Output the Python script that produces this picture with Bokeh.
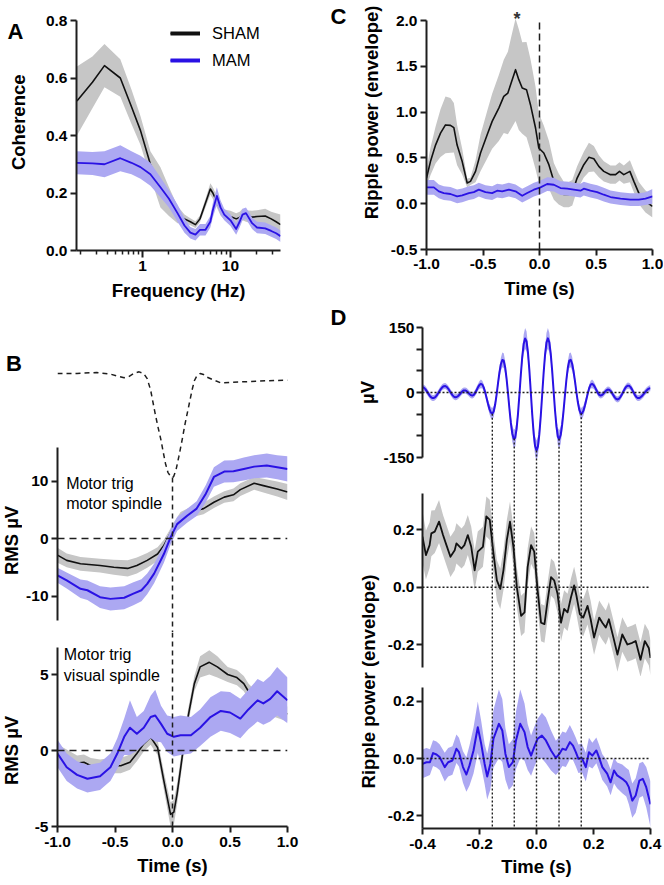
import numpy as np
from bokeh.plotting import figure
from bokeh.models import (Range1d, LinearAxis, FixedTicker, NumeralTickFormatter,
                          BasicTickFormatter, Span, Label, Legend, LegendItem)
from bokeh.layouts import row, column
from bokeh.embed import file_html
from bokeh.resources import INLINE

# ======================= DATA =======================
# ---- Panel A: coherence vs frequency (Hz)
a_freq = [0.18, 0.27, 0.37, 0.56, 0.75, 0.95, 1.23, 1.6, 2.0, 2.5,
          3.0, 3.5, 4.0, 4.5, 5.2, 5.9, 6.3, 7.0, 7.7, 8.5,
          10.0, 11.6, 12.7, 13.7, 15.0, 17.6, 20.0, 24.8, 29.0, 33.0, 37.0]
a_sham = [0.52, 0.585, 0.643, 0.60, 0.50, 0.417, 0.30, 0.22, 0.17, 0.125,
          0.11, 0.10, 0.09, 0.11, 0.165, 0.214, 0.20, 0.17, 0.14, 0.125,
          0.118, 0.11, 0.115, 0.125, 0.12, 0.116, 0.118, 0.12, 0.11, 0.10, 0.09]
a_sham_sem = [0.12, 0.09, 0.075, 0.065, 0.06, 0.05, 0.045, 0.07, 0.05, 0.03,
              0.015, 0.012, 0.012, 0.012, 0.015, 0.02, 0.02, 0.02, 0.018, 0.018,
              0.02, 0.02, 0.02, 0.02, 0.02, 0.022, 0.022, 0.025, 0.025, 0.03, 0.035]
a_mam = [0.305, 0.303, 0.30, 0.321, 0.305, 0.29, 0.265, 0.22, 0.18, 0.13,
         0.087, 0.062, 0.055, 0.072, 0.072, 0.10, 0.14, 0.19, 0.15, 0.125,
         0.105, 0.075, 0.10, 0.125, 0.13, 0.095, 0.08, 0.077, 0.068, 0.06, 0.05]
a_mam_sem = [0.04, 0.04, 0.045, 0.045, 0.04, 0.04, 0.04, 0.035, 0.03, 0.03,
             0.025, 0.02, 0.02, 0.02, 0.02, 0.02, 0.025, 0.03, 0.025, 0.02,
             0.02, 0.02, 0.02, 0.02, 0.02, 0.02, 0.02, 0.02, 0.02, 0.02, 0.02]
a_yticks = [0, 0.2, 0.4, 0.6, 0.8]
a_xticks = [1, 10]
a_xminor = [0.2, 0.3, 0.4, 0.5, 0.6, 0.7, 0.8, 0.9, 2, 3, 4, 5, 6, 7, 8, 9, 20, 30]

# ---- Panel C: ripple power (envelope) vs time (s)
c_t_sham = [-1.0, -0.965, -0.92, -0.876, -0.832, -0.788, -0.758, -0.729, -0.684, -0.64,
            -0.611, -0.566, -0.522, -0.463, -0.419, -0.36, -0.316, -0.28, -0.251, -0.212,
            -0.183, -0.153, -0.115, -0.08, -0.035, -0.006, 0.038, 0.083, 0.127, 0.17,
            0.215, 0.26, 0.29, 0.333, 0.392, 0.437, 0.481, 0.525, 0.569, 0.628,
            0.673, 0.708, 0.746, 0.80, 0.835, 0.879, 0.938, 1.0]
c_sham = [0.28, 0.46, 0.64, 0.77, 0.86, 0.855, 0.83, 0.64, 0.46, 0.226,
          0.244, 0.353, 0.553, 0.753, 0.899, 1.044, 1.172, 1.208, 1.317, 1.463,
          1.354, 1.263, 1.245, 1.081, 0.826, 0.608, 0.553, 0.426, 0.244, 0.16,
          0.10, 0.10, 0.12, 0.28, 0.426, 0.506, 0.491, 0.408, 0.353, 0.317,
          0.317, 0.353, 0.317, 0.353, 0.244, 0.116, 0.025, -0.03]
c_sham_sem = [0.10, 0.15, 0.20, 0.26, 0.31, 0.30, 0.27, 0.22, 0.14, 0.05,
              0.04, 0.12, 0.20, 0.26, 0.30, 0.36, 0.40, 0.45, 0.50, 0.56,
              0.55, 0.50, 0.52, 0.50, 0.45, 0.38, 0.30, 0.26, 0.20, 0.17,
              0.14, 0.14, 0.14, 0.13, 0.14, 0.16, 0.14, 0.12, 0.11, 0.10,
              0.10, 0.10, 0.10, 0.12, 0.12, 0.12, 0.12, 0.12]
c_t_mam = [-1.0, -0.935, -0.891, -0.847, -0.788, -0.729, -0.684, -0.625, -0.581, -0.537,
           -0.478, -0.419, -0.375, -0.33, -0.271, -0.212, -0.153, -0.109, -0.05, 0.009,
           0.068, 0.127, 0.186, 0.245, 0.304, 0.363, 0.392, 0.451, 0.51, 0.569,
           0.628, 0.717, 0.805, 0.879, 0.938, 1.0]
c_mam = [0.178, 0.178, 0.135, 0.116, 0.106, 0.08, 0.091, 0.116, 0.127, 0.153,
         0.127, 0.116, 0.142, 0.135, 0.153, 0.135, 0.087, 0.116, 0.153, 0.178,
         0.215, 0.207, 0.171, 0.164, 0.153, 0.142, 0.164, 0.142, 0.127, 0.098,
         0.073, 0.055, 0.044, 0.044, 0.055, 0.08]
c_mam_sem = [0.08, 0.08, 0.075, 0.075, 0.075, 0.075, 0.075, 0.075, 0.075, 0.075,
             0.075, 0.075, 0.075, 0.075, 0.075, 0.075, 0.075, 0.075, 0.075, 0.075,
             0.075, 0.075, 0.075, 0.075, 0.075, 0.075, 0.075, 0.075, 0.075, 0.075,
             0.07, 0.07, 0.07, 0.07, 0.07, 0.08]
c_xticks = [-1.0, -0.5, 0.0, 0.5, 1.0]
c_yticks = [-0.5, 0.0, 0.5, 1.0, 1.5, 2.0]
c_star_t = -0.2

# ---- Panel B: spindle template (arbitrary units) and RMS (uV)
b_tpl_t = [-1.0, -0.83, -0.66, -0.54, -0.46, -0.42, -0.38, -0.33, -0.29, -0.25,
           -0.22, -0.19, -0.15, -0.125, -0.10, -0.08, -0.06, -0.04, -0.017, 0.0,
           0.01, 0.03, 0.055, 0.08, 0.11, 0.14, 0.17, 0.19, 0.21, 0.24,
           0.27, 0.30, 0.36, 0.42, 0.50, 0.68, 0.82, 1.0]
b_tpl_v = [0.0, 0.0, 0.01, -0.006, -0.03, -0.04, -0.03, 0.005, 0.016, 0.0,
           -0.05, -0.16, -0.39, -0.52, -0.64, -0.76, -0.87, -0.95, -0.99, -1.0,
           -0.99, -0.93, -0.80, -0.66, -0.48, -0.32, -0.16, -0.07, -0.026, 0.0,
           -0.01, -0.035, -0.064, -0.09, -0.085, -0.077, -0.07, -0.064]

b1_t_sham = [-1.0, -0.92, -0.80, -0.63, -0.51, -0.39, -0.31, -0.22, -0.13, -0.075,
             -0.03, 0.01, 0.07, 0.13, 0.21, 0.27, 0.36, 0.45, 0.53, 0.59,
             0.71, 0.79, 0.91, 1.0]
b1_sham = [-2.9, -3.8, -4.4, -4.7, -5.0, -5.2, -4.7, -3.8, -2.7, -1.2,
           0.5, 2.0, 3.7, 4.3, 4.9, 5.2, 6.3, 7.2, 7.6, 8.5,
           9.6, 9.2, 8.6, 8.1]
b1_sham_sem = [1.3, 1.2, 1.2, 1.2, 1.3, 1.4, 1.4, 1.3, 1.2, 1.0,
               0.8, 0.8, 0.9, 0.9, 1.0, 1.0, 1.0, 1.0, 1.1, 1.1,
               1.1, 1.2, 1.3, 1.4]
b1_t_mam = [-1.0, -0.92, -0.80, -0.74, -0.63, -0.54, -0.42, -0.34, -0.27, -0.22,
            -0.16, -0.075, -0.017, 0.04, 0.13, 0.21, 0.29, 0.36, 0.45, 0.53,
            0.62, 0.71, 0.82, 0.91, 1.0]
b1_mam = [-6.4, -7.3, -8.75, -9.0, -10.2, -10.5, -10.3, -9.6, -9.0, -7.9,
          -6.1, -2.7, 0.2, 2.5, 4.0, 5.2, 7.8, 10.7, 11.65, 11.7,
          12.1, 12.5, 12.7, 12.4, 12.1]
b1_mam_sem = [1.3, 1.4, 1.6, 1.7, 1.9, 2.0, 2.0, 2.0, 1.9, 1.8,
              1.7, 1.5, 1.3, 1.2, 1.2, 1.3, 1.5, 1.7, 1.9, 1.9,
              2.0, 2.0, 2.1, 2.1, 2.2]

b2_t_sham = [-1.0, -0.92, -0.83, -0.77, -0.71, -0.63, -0.54, -0.45, -0.37, -0.31,
             -0.25, -0.19, -0.13, -0.075, -0.046, -0.017, 0.012, 0.04, 0.084, 0.13,
             0.19, 0.24, 0.32, 0.39, 0.48, 0.56, 0.62, 0.66, 0.75, 0.85, 1.0]
b2_sham = [-0.1, -0.44, -0.83, -0.77, -1.0, -1.1, -1.0, -1.0, -0.77, -0.2,
           0.44, 0.88, 0.2, -2.0, -3.1, -4.2, -4.05, -2.85, -0.44, 2.0,
           4.4, 5.5, 5.8, 5.5, 5.0, 4.8, 4.4, 3.9, 3.2, 2.8, 2.4]
b2_sham_sem = [0.5, 0.5, 0.5, 0.5, 0.5, 0.5, 0.5, 0.5, 0.5, 0.5,
               0.5, 0.5, 0.5, 0.6, 0.7, 0.8, 0.8, 0.7, 0.6, 0.5,
               0.5, 0.7, 0.8, 0.7, 0.5, 0.5, 0.5, 0.5, 0.5, 0.5, 0.5]
b2_t_mam = [-1.0, -0.92, -0.83, -0.74, -0.63, -0.54, -0.48, -0.42, -0.37, -0.31,
            -0.25, -0.19, -0.15, -0.10, -0.046, 0.012, 0.07, 0.16, 0.24, 0.33,
            0.42, 0.50, 0.59, 0.66, 0.74, 0.79, 0.85, 0.91, 1.0]
b2_mam = [-0.2, -1.1, -1.6, -1.86, -1.7, -1.1, -0.2, 0.9, 1.5, 1.1,
          1.5, 2.2, 2.3, 1.75, 1.1, 0.9, 1.0, 1.0, 1.5, 2.2,
          2.6, 2.5, 2.1, 2.7, 3.3, 3.1, 3.4, 3.9, 3.3]
b2_mam_sem = [0.9, 0.9, 0.9, 0.9, 0.9, 0.9, 1.0, 1.2, 1.8, 1.1,
              1.1, 1.4, 1.7, 1.2, 1.2, 1.3, 1.3, 1.2, 1.2, 1.3,
              1.3, 1.35, 1.3, 1.3, 1.4, 1.4, 1.5, 1.6, 1.5]
b_xticks = [-1.0, -0.5, 0.0, 0.5, 1.0]
b1_yticks = [-10, 0, 10]
b2_yticks = [-5, 0, 5]

# ---- Panel D: spindle-triggered averages (time in s)
d_top_t = np.round(np.linspace(-0.4, 0.4, 161), 3)   # 5 ms sample grid
d_top_mam = [12, 10.9, 7.8, 3.2, -2.1, -7.1, -10.9, -12.8, -12.6, -10.5,
             -6.6, -1.7, 3.7, 8.6, 12.5, 14.6, 14.8, 12.9, 9.1, 4.1,
             -1.2, -6.0, -9.4, -11.0, -10.4, -8.1, -4.6, -0.7, 2.7, 4.7,
             4.8, 3.1, 0.0, -3.4, -6.0, -7.0, -5.3, -0.7, 5.8, 12.4,
             17.6, 19.9, 18.2, 11.3, 0.3, -13.1, -26.7, -38.4, -46.2, -49.0,
             -43.4, -27.8, -4.8, 21.4, 46.3, 65.3, 75.1, 73.4, 58.4, 32.0,
             -1.6, -37.5, -70.1, -94.5, -106.9, -104.6, -84.7, -49.8, -5.6, 41.0,
             82.4, 111.7, 124.6, 118.4, 92.5, 51.1, 0.7, -50.5, -94.2, -123.6,
             -134.0, -124.2, -96.1, -54.1, -4.5, 45.1, 87.1, 115.2, 125.0, 115.7,
             89.1, 49.9, 3.8, -41.6, -78.8, -102.1, -107.9, -97.5, -74.2, -41.6,
             -4.9, 30.0, 57.6, 73.3, 75.2, 66.3, 49.0, 26.0, 1.0, -22.0,
             -39.4, -48.2, -47.9, -41.3, -30.0, -16.0, -1.6, 10.4, 18.0, 19.9,
             17.6, 12.4, 5.8, -0.7, -5.3, -7.0, -5.8, -2.8, 1.2, 4.8,
             6.8, 6.5, 3.6, -1.2, -6.7, -11.8, -15.1, -16.0, -14.1, -9.8,
             -3.9, 2.6, 8.8, 13.4, 15.8, 15.5, 12.4, 7.2, 0.8, -5.4,
             -10.2, -12.8, -12.7, -11.1, -8.2, -4.4, -0.2, 3.8, 7.1, 9.3,
             10.0]
d_top_sem = [7, 7, 7, 7, 7, 7, 7, 7, 7, 7,
             7, 7, 7, 7, 7, 7, 7, 7, 7, 7,
             7, 7, 7, 7, 7, 7, 7, 7, 7, 7,
             7, 7, 7, 7, 7, 7, 7, 7, 8, 8,
             9, 10, 9, 8, 7, 9, 10, 12, 13, 13,
             13, 11, 8, 10, 13, 15, 17, 17, 15, 11,
             7, 12, 16, 19, 21, 21, 18, 13, 8, 12,
             18, 22, 24, 23, 19, 14, 7, 14, 19, 22,
             23, 22, 19, 14, 8, 13, 18, 22, 24, 22,
             18, 13, 7, 12, 17, 20, 21, 20, 17, 12,
             8, 11, 15, 17, 17, 16, 13, 10, 7, 10,
             12, 13, 13, 12, 11, 9, 7, 8, 9, 10,
             9, 8, 7, 7, 7, 7, 7, 7, 7, 7,
             7, 7, 7, 7, 7, 7, 7, 7, 7, 7,
             7, 7, 7, 7, 7, 7, 7, 7, 7, 7,
             7, 7, 7, 7, 7, 7, 7, 7, 7, 7,
             7]
d_trough_t = [-0.155, -0.078, 0.0, 0.079, 0.157]

d_mid_t = [-0.400, -0.388, -0.375, -0.369, -0.357, -0.342, -0.328, -0.316, -0.302, -0.287,
           -0.281, -0.263, -0.253, -0.241, -0.229, -0.217, -0.206, -0.188, -0.176, -0.164,
           -0.151, -0.139, -0.127, -0.116, -0.104, -0.093, -0.081, -0.069, -0.054, -0.042,
           -0.031, -0.019, -0.008, 0.004, 0.016, 0.028, 0.039, 0.051, 0.062, 0.074,
           0.086, 0.097, 0.109, 0.121, 0.132, 0.140, 0.152, 0.164, 0.179, 0.190,
           0.202, 0.220, 0.231, 0.243, 0.254, 0.270, 0.284, 0.301, 0.319, 0.336,
           0.348, 0.365, 0.380, 0.394, 0.400]
d_mid_sham = [0.176, 0.112, 0.147, 0.188, 0.194, 0.229, 0.182, 0.147, 0.106, 0.129,
              0.153, 0.135, 0.147, 0.182, 0.141, 0.059, 0.124, 0.141, 0.247, 0.235,
              0.118, 0.024, -0.006, 0.059, 0.165, 0.229, 0.141, 0.0, -0.1, -0.088,
              0.071, 0.147, 0.124, -0.012, -0.124, -0.129, -0.047, 0.035, 0.024, -0.024,
              -0.124, -0.076, -0.088, -0.035, 0.006, -0.029, -0.094, -0.106, -0.065, -0.112,
              -0.176, -0.106, -0.124, -0.141, -0.112, -0.176, -0.235, -0.165, -0.2, -0.194,
              -0.188, -0.253, -0.188, -0.212, -0.247]
d_mid_sem = [0.09, 0.085, 0.08, 0.08, 0.075, 0.075, 0.07, 0.07, 0.07, 0.07,
             0.07, 0.07, 0.07, 0.07, 0.07, 0.07, 0.07, 0.07, 0.07, 0.07,
             0.07, 0.07, 0.07, 0.07, 0.07, 0.07, 0.07, 0.07, 0.07, 0.07,
             0.065, 0.065, 0.065, 0.065, 0.065, 0.065, 0.065, 0.065, 0.065, 0.065,
             0.065, 0.065, 0.065, 0.065, 0.065, 0.065, 0.065, 0.065, 0.065, 0.065,
             0.06, 0.06, 0.06, 0.06, 0.06, 0.06, 0.06, 0.06, 0.06, 0.06,
             0.06, 0.06, 0.06, 0.06, 0.06]

d_bot_t = [-0.400, -0.386, -0.374, -0.363, -0.351, -0.340, -0.322, -0.310, -0.295, -0.281,
           -0.272, -0.258, -0.246, -0.235, -0.221, -0.206, -0.194, -0.182, -0.173, -0.162,
           -0.151, -0.132, -0.120, -0.109, -0.097, -0.083, -0.072, -0.057, -0.042, -0.031,
           -0.019, -0.008, 0.004, 0.019, 0.033, 0.051, 0.068, 0.080, 0.091, 0.103,
           0.117, 0.128, 0.138, 0.147, 0.159, 0.173, 0.184, 0.196, 0.210, 0.219,
           0.231, 0.248, 0.260, 0.272, 0.283, 0.301, 0.315, 0.324, 0.336, 0.348,
           0.361, 0.373, 0.385, 0.400]
d_bot_mam = [-0.019, -0.013, -0.013, 0.019, 0.014, 0.005, -0.03, -0.013, -0.007, 0.034,
             0.022, -0.03, -0.056, -0.024, 0.028, 0.109, 0.051, -0.019, -0.063, -0.019,
             0.069, 0.121, 0.098, 0.016, -0.03, -0.013, 0.063, 0.121, 0.092, 0.04,
             0.01, 0.04, 0.069, 0.08, 0.063, 0.028, 0.002, 0.016, 0.034, 0.03,
             0.057, 0.045, 0.022, -0.001, 0.002, -0.03, 0.022, 0.01, 0.028, 0.005,
             -0.03, -0.053, -0.083, -0.042, -0.059, -0.071, -0.083, -0.1, -0.147, -0.129,
             -0.077, -0.071, -0.1, -0.16]
d_bot_sem = [0.05, 0.05, 0.045, 0.045, 0.045, 0.045, 0.05, 0.05, 0.05, 0.05,
             0.05, 0.055, 0.06, 0.07, 0.08, 0.09, 0.08, 0.07, 0.08, 0.09,
             0.1, 0.12, 0.11, 0.09, 0.08, 0.08, 0.1, 0.12, 0.1, 0.08,
             0.07, 0.07, 0.07, 0.08, 0.08, 0.07, 0.06, 0.06, 0.06, 0.06,
             0.06, 0.05, 0.05, 0.05, 0.05, 0.05, 0.05, 0.045, 0.045, 0.045,
             0.045, 0.045, 0.045, 0.045, 0.045, 0.05, 0.05, 0.06, 0.06, 0.06,
             0.06, 0.06, 0.07, 0.08]
d_xticks = [-0.4, -0.2, 0.0, 0.2, 0.4]
d_top_yticks = [-150, -100, -50, 0, 50, 100, 150]
d_rp_yticks = [-0.2, 0.0, 0.2]

# ======================= STYLE =======================
FONT = "Liberation Sans"
AXC = "#1e1e1e"
SHAM_LINE = "#111111"
SHAM_BAND = "#c6c6c6"
MAM_LINE = "#2a12e4"
MAM_BAND = "#aca8f2"
TICK_FS = "15.5px"
TITLE_FS = "18.5px"


def mkfig(w, h, left, right, top, bottom, xr, yrng, x_axis_type="linear"):
    p = figure(width=w, height=h, x_range=xr, y_range=yrng, x_axis_type=x_axis_type,
               x_axis_location=None, y_axis_location=None,
               output_backend="svg", toolbar_location=None,
               min_border_left=left, min_border_right=right,
               min_border_top=top, min_border_bottom=bottom)
    p.outline_line_color = None
    p.grid.visible = False
    p.background_fill_color = "white"
    p.border_fill_color = "white"
    return p


def add_axis(p, side, ticks, fmt, label=None, bounds="auto", overrides=None,
             ls=5, ts=3, minor=None):
    ticker = FixedTicker(ticks=ticks, minor_ticks=minor or [])
    formatter = NumeralTickFormatter(format=fmt) if fmt else BasicTickFormatter()
    ax = LinearAxis(ticker=ticker, formatter=formatter, bounds=bounds)
    ax.axis_line_color = AXC
    ax.axis_line_width = 2
    ax.major_tick_line_color = AXC
    ax.major_tick_line_width = 2
    ax.major_tick_out = 6
    ax.major_tick_in = 0
    ax.minor_tick_line_color = None
    ax.major_label_text_font = FONT
    ax.major_label_text_font_size = TICK_FS
    ax.major_label_text_font_style = "bold"
    ax.major_label_text_color = "black"
    ax.major_label_standoff = ts
    if label is not None:
        ax.axis_label = label
        ax.axis_label_text_font = FONT
        ax.axis_label_text_font_size = TITLE_FS
        ax.axis_label_text_font_style = "bold"
        ax.axis_label_text_color = "black"
        ax.axis_label_standoff = ls
    if overrides:
        ax.major_label_overrides = overrides
    p.add_layout(ax, side)
    return ax


def band(p, x, m, s, color, **kw):
    m = np.asarray(m, float)
    s = np.asarray(s, float)
    p.varea(x=list(x), y1=list(m - s), y2=list(m + s), fill_color=color, fill_alpha=1.0, **kw)


def trace(p, x, m, color, w, **kw):
    return p.line(x=list(x), y=list(m), line_color=color, line_width=w, line_join="round", **kw)


def note(p, x, y, text):
    p.add_layout(Label(x=x, y=y, text=text, text_font=FONT, text_font_size="16px",
                       text_align="left", text_baseline="middle", text_color="black"))


def yr(zero, ppu, top, bot):
    # vertical range so that value 0 sits at pixel row 'zero', with ppu px per unit
    return Range1d(-(bot - zero) / ppu, (zero - top) / ppu)


def label_fig(w, h, xr, yrng):
    # a strip whose frame is its whole canvas, holding panel letters and y titles
    p = figure(width=w, height=h, x_range=xr, y_range=yrng,
               x_axis_location=None, y_axis_location=None,
               output_backend="svg", toolbar_location=None,
               min_border_left=0, min_border_right=0, min_border_top=0, min_border_bottom=0)
    p.outline_line_color = None
    p.grid.visible = False
    return p


def letter(p, x, y, text):
    p.add_layout(Label(x=x, y=y, text=text, text_font=FONT, text_font_size="22px",
                       text_font_style="bold", text_align="center",
                       text_baseline="middle", text_color="black"))


def vlabel(p, x, y, text):
    p.add_layout(Label(x=x, y=y, text=text, angle=np.pi / 2, text_font=FONT,
                       text_font_size=TITLE_FS, text_font_style="bold",
                       text_align="center", text_baseline="middle", text_color="black"))


# ======================= PANEL A =======================
LA = 35
pA = mkfig(330 - LA, 305, 76 - LA, 50, 20, 55,
           Range1d(0.178, 37.0), Range1d(0, 0.8), x_axis_type="log")
band(pA, a_freq, a_sham, a_sham_sem, SHAM_BAND)
rA1 = trace(pA, a_freq, a_sham, SHAM_LINE, 1.6)
band(pA, a_freq, a_mam, a_mam_sem, MAM_BAND)
rA2 = trace(pA, a_freq, a_mam, MAM_LINE, 1.8)
axA = add_axis(pA, "below", a_xticks, None, "Frequency (Hz)", minor=a_xminor, ls=6, ts=3)
axA.major_tick_out = 7
axA.minor_tick_line_color = AXC
axA.minor_tick_line_width = 1.5
axA.minor_tick_out = 4
axA.minor_tick_in = 0
add_axis(pA, "left", a_yticks, "0.0", None)
# legend swatches: thick copies of the traces, hidden in the plot but drawn in the legend
lr1 = pA.line(x=a_freq, y=a_sham, line_color=SHAM_LINE, line_width=4, visible=False)
lr2 = pA.line(x=a_freq, y=a_mam, line_color=MAM_LINE, line_width=4, visible=False)
legA = Legend(items=[LegendItem(label="SHAM", renderers=[lr1, rA1]),
                     LegendItem(label="MAM", renderers=[lr2, rA2])],
              location=(94, 180), orientation="vertical",
              glyph_width=30, glyph_height=20, label_height=20,
              spacing=7, label_standoff=12, padding=0, margin=0,
              border_line_color=None, background_fill_alpha=0,
              label_text_font=FONT, label_text_font_size="16.5px", label_text_color="black")
pA.add_layout(legA)
pAl = label_fig(LA, 305, Range1d(0, LA), Range1d(305, 0))
letter(pAl, 15, 15, "A")
vlabel(pAl, 17.5, 135, "Coherence")
rowA = row(pAl, pA)

# ======================= PANEL C =======================
LC = 55
C_PPU = 229 / 2.5
pC = mkfig(333 - LC, 305, 96 - LC, 11, 6, 56,
           Range1d(-1, 1), Range1d(-0.5, 2.0 + 14 / C_PPU))
band(pC, c_t_sham, c_sham, c_sham_sem, SHAM_BAND)
trace(pC, c_t_sham, c_sham, SHAM_LINE, 1.6)
band(pC, c_t_mam, c_mam, c_mam_sem, MAM_BAND)
trace(pC, c_t_mam, c_mam, MAM_LINE, 1.8)
pC.segment(x0=[0], y0=[c_yticks[0]], x1=[0], y1=[c_yticks[-1]],
           line_color=AXC, line_width=1.5, line_dash="7 4")
add_axis(pC, "below", c_xticks, "0.0", "Time (s)", ls=6, ts=3)
add_axis(pC, "left", c_yticks, "0.0", None, bounds=(-0.5, 2.0))
pC.add_layout(Label(x=c_star_t, y=2.0 + 2 / C_PPU, text="*", text_font=FONT,
                    text_font_size="18px", text_font_style="bold", text_align="center",
                    text_baseline="middle", text_color="#333333"))
pCl = label_fig(LC, 305, Range1d(330, 330 + LC), Range1d(305, 0))
letter(pCl, 338, 12, "C")
vlabel(pCl, 371, 133, "Ripple power (envelope)")
rowC = row(pCl, pC)

# ======================= PANEL B =======================
xB = Range1d(-1, 1)
BL = 22
pBm = mkfig(330 - BL, 327, 57 - BL, 43, 55, 0, xB, yr(538, 5.75, 360, 632))
pBm.extra_y_ranges = {"tpl": yr(373, 104, 360, 632)}
band(pBm, b1_t_sham, b1_sham, b1_sham_sem, SHAM_BAND)
trace(pBm, b1_t_sham, b1_sham, SHAM_LINE, 1.6)
band(pBm, b1_t_mam, b1_mam, b1_mam_sem, MAM_BAND)
trace(pBm, b1_t_mam, b1_mam, MAM_LINE, 2.0)
pBm.line(b_tpl_t, b_tpl_v, y_range_name="tpl", line_color=AXC, line_width=1.5, line_dash="5 4")
imin = int(np.argmin(b_tpl_v))
pBm.segment(x0=[b_tpl_t[imin]], y0=[b_tpl_v[imin]], x1=[b_tpl_t[imin]],
            y1=[pBm.extra_y_ranges["tpl"].start], y_range_name="tpl",
            line_color=AXC, line_width=1.5, line_dash="5 4")
pBm.add_layout(Span(location=0, dimension="width", line_color=AXC, line_width=1.5, line_dash="7 5"))
add_axis(pBm, "left", b1_yticks, "0", None, bounds=(-14.26, 15.83))
note(pBm, -0.925, 9.57, "Motor trig")
note(pBm, -0.925, 6.09, "motor spindle")

pBb = mkfig(330 - BL, 252, 57 - BL, 43, 0, 58, xB, yr(750, 15.2, 632, 826))
band(pBb, b2_t_sham, b2_sham, b2_sham_sem, SHAM_BAND)
trace(pBb, b2_t_sham, b2_sham, SHAM_LINE, 1.6)
band(pBb, b2_t_mam, b2_mam, b2_mam_sem, MAM_BAND)
trace(pBb, b2_t_mam, b2_mam, MAM_LINE, 2.0)
pBb.add_layout(Span(location=0, dimension="width", line_color=AXC, line_width=1.5, line_dash="7 5"))
pBb.add_layout(Span(location=0, dimension="height", line_color=AXC, line_width=1.5, line_dash="5 4"))
add_axis(pBb, "left", b2_yticks, "0", None, bounds=(-5, 6.78))
add_axis(pBb, "below", b_xticks, "0.0", "Time (s)", ls=5, ts=4)
note(pBb, -0.945, 6.3, "Motor trig")
note(pBb, -0.945, 4.93, "visual spindle")

pBl = label_fig(BL, 327 + 252, Range1d(0, BL), Range1d(884, 305))
letter(pBl, 13.5, 363, "B")
vlabel(pBl, 11, 540, "RMS \u00b5V")
vlabel(pBl, 11, 750, "RMS \u00b5V")
colB = row(pBl, column(pBm, pBb))

# ======================= PANEL D =======================
xD = Range1d(-0.4, 0.4)
DL = 50
pDt = mkfig(333 - DL, 175, 91 - DL, 13, 17, 0, xD, yr(392, 65 / 150, 322, 480))
band(pDt, d_top_t, d_top_mam, d_top_sem, MAM_BAND)
trace(pDt, d_top_t, d_top_mam, MAM_LINE, 2.0)
pDt.add_layout(Span(location=0, dimension="width", line_color=AXC, line_width=1.4, line_dash="2 2"))
trough_y = list(np.interp(d_trough_t, d_top_t, d_top_mam))
pDt.segment(x0=d_trough_t, y0=trough_y, x1=d_trough_t,
            y1=[pDt.y_range.start] * len(d_trough_t),
            line_color=AXC, line_width=1.4, line_dash="2 2")
add_axis(pDt, "left", d_top_yticks, "0", None, bounds=(-150, 150),
         overrides={-100: "", -50: "", 50: "", 100: ""}, ts=2)

pDm = mkfig(333 - DL, 196, 91 - DL, 13, 0, 0, xD, yr(586.7, 286.5, 480, 676))
band(pDm, d_mid_t, d_mid_sham, d_mid_sem, SHAM_BAND)
trace(pDm, d_mid_t, d_mid_sham, SHAM_LINE, 1.8)
pDm.add_layout(Span(location=0, dimension="width", line_color=AXC, line_width=1.4, line_dash="2 2"))
for tt in d_trough_t:
    pDm.add_layout(Span(location=tt, dimension="height", line_color=AXC, line_width=1.4, line_dash="2 2"))
add_axis(pDm, "left", d_rp_yticks, "0.0", None, bounds=(-0.28, 0.327), ts=2)

pDb = mkfig(333 - DL, 208, 91 - DL, 13, 0, 56, xD, yr(758, 286.5, 676, 828))
band(pDb, d_bot_t, d_bot_mam, d_bot_sem, MAM_BAND)
trace(pDb, d_bot_t, d_bot_mam, MAM_LINE, 2.0)
pDb.add_layout(Span(location=0, dimension="width", line_color=AXC, line_width=1.4, line_dash="2 2"))
for tt in d_trough_t:
    pDb.add_layout(Span(location=tt, dimension="height", line_color=AXC, line_width=1.4, line_dash="2 2"))
add_axis(pDb, "left", d_rp_yticks, "0.0", None, bounds=(-0.2443, 0.249), ts=2)
add_axis(pDb, "below", d_xticks, "0.0", "Time (s)", ls=4, ts=4)

pDl = label_fig(DL, 175 + 196 + 208, Range1d(330, 330 + DL), Range1d(884, 305))
letter(pDl, 338, 317, "D")
vlabel(pDl, 367, 392, "\u00b5V")
vlabel(pDl, 368, 681, "Ripple power (envelope)")
colD = row(pDl, column(pDt, pDm, pDb))

layout = row(column(rowA, colB), column(rowC, colD))

open("out.html", "w").write(file_html(layout, INLINE))
